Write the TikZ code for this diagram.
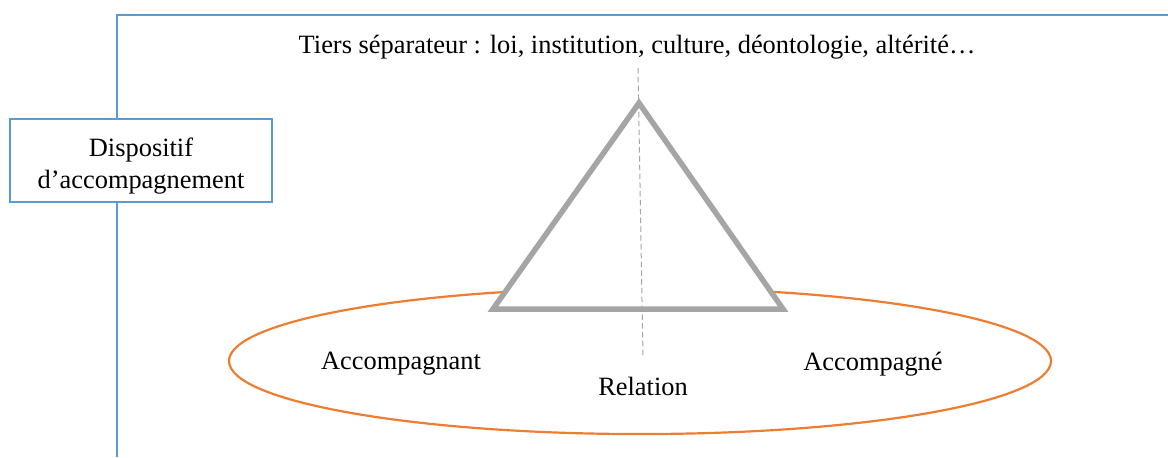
\documentclass[tikz,border=0pt]{standalone}
\usepackage{fontspec}
\setmainfont{Liberation Serif}
\usetikzlibrary{positioning, calc, shapes.geometric}
\definecolor{frameblue}{HTML}{5B9BD5}
\definecolor{relorange}{HTML}{ED7D31}
\definecolor{trigray}{HTML}{A5A5A5}

\begin{document}
\begin{tikzpicture}[x=0.4545pt, y=-0.4545pt, font=\fontsize{12}{14.5}\selectfont,
    framebox/.style={rectangle, draw=frameblue, line width=1pt, fill=white, align=center,
        minimum width=119pt, minimum height=37.7pt, inner sep=0pt},
    frameline/.style={draw=frameblue, line width=1pt},
    relation/.style={ellipse, draw=relorange, line width=1pt, inner sep=0pt,
        minimum width=373.6pt, minimum height=66.4pt},
    tiers/.style={draw=trigray, line width=2.5pt, fill=white, line join=miter},
    axis/.style={draw=trigray, line width=0.45pt, dash pattern=on 2.5pt off 1.5pt}]
    \useasboundingbox (0,0) rectangle (1168,457);

    % cadre du dispositif
    \coordinate (FrameLow) at (117,457);
    \coordinate (FrameCorner) at (117,15);
    \coordinate (FrameRight) at (1168,15);
    \draw[frameline] (FrameLow) -- (FrameCorner) -- (FrameRight);
    \node (Dispositif) [framebox] at (141,160.5) {\rule{0pt}{13.5pt}Dispositif\\d’accompagnement};

    % relation
    \node (Relation) [relation] at (640,361) {};

    % triangle
    \coordinate (Apex) at (639,103);
    \coordinate (BaseLeft) at (493,309);
    \coordinate (BaseRight) at (783,309);
    \draw[tiers] (Apex) -- (BaseLeft) -- (BaseRight) -- cycle;

    \node (Tiers) at (637,47) {Tiers séparateur : loi, institution, culture, déontologie, altérité…};
    \coordinate (AxisTop) at (638,68);
    \coordinate (AxisEnd) at (643,358);
    \draw[axis] (AxisTop) -- (AxisEnd);

    \node (Accompagnant) at (401,364) {Accompagnant};
    \node (RelationText) at (643,386) {Relation};
    \node (Accompagne) at (873,364) {Accompagné};

\end{tikzpicture}
\end{document}
